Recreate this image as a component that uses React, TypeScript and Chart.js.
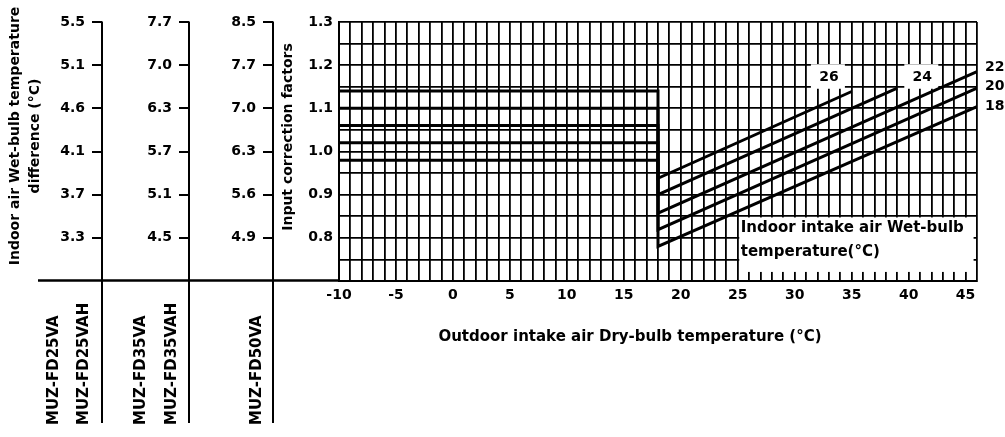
import React, { useEffect, useRef } from 'react';
import { Chart, registerables } from 'chart.js';

Chart.register(...registerables);

// ---- data ----
const wetBulbLabels = ['26', '24', '22', '20', '18'];
const lowStartTemps = [-10, -10, -10, -10, -10];
const lowTempFactors = [1.14, 1.1, 1.06, 1.02, 0.98];
const breakTemps = [18, 18, 18, 18, 18];
const breakFactors = [0.938, 0.9, 0.857, 0.819, 0.78];
const endTemps = [35, 39, 46, 46, 46];
const endFactors = [1.139, 1.147, 1.185, 1.147, 1.104];

const xLabelTicks = [-10, -5, 0, 5, 10, 15, 20, 25, 30, 35, 40, 45];
const factorTicks = [0.8, 0.9, 1.0, 1.1, 1.2, 1.3];
const factorTickLabels = ['0.8', '0.9', '1.0', '1.1', '1.2', '1.3'];
const diffTicks25 = ['3.3', '3.7', '4.1', '4.6', '5.1', '5.5'];
const diffTicks35 = ['4.5', '5.1', '5.7', '6.3', '7.0', '7.7'];
const diffTicks50 = ['4.9', '5.6', '6.3', '7.0', '7.7', '8.5'];
const models25 = ['MUZ-FD25VA', 'MUZ-FD25VAH'];
const models35 = ['MUZ-FD35VA', 'MUZ-FD35VAH'];
const models50 = ['MUZ-FD50VA'];

const X_MIN = -10;
const X_MAX = 46;
const Y_MIN = 0.7;
const Y_MAX = 1.3;

const FONT = 'DejaVu Sans';

const xGridTicks: number[] = [];
for (let v = X_MIN; v <= X_MAX; v++) xGridTicks.push(v);
const yGridTicks: number[] = [];
for (let i = 0; i <= 12; i++) yGridTicks.push(Math.round((Y_MIN + 0.05 * i) * 100) / 100);

function auxAxis(labels: string[], weight: number, width: number) {
  return {
    type: 'linear',
    position: 'left',
    weight,
    min: Y_MIN,
    max: Y_MAX,
    afterBuildTicks: (s: any) => {
      s.ticks = factorTicks.map((v) => ({ value: v }));
    },
    afterFit: (s: any) => {
      s.width = width;
    },
    grid: { drawOnChartArea: false, drawTicks: true, tickLength: 10, color: '#000', lineWidth: 2 },
    border: { display: false },
    ticks: {
      autoSkip: false,
      padding: 7,
      color: '#000',
      font: { family: FONT, size: 14, weight: 'bold' },
      callback: (_v: any, i: number) => labels[i],
    },
  };
}

function text(ctx: CanvasRenderingContext2D, s: string, x: number, y: number, size: number, align: CanvasTextAlign, rot = 0) {
  ctx.save();
  ctx.translate(x, y);
  if (rot) ctx.rotate(rot);
  ctx.font = `bold ${size}px "${FONT}"`;
  ctx.fillStyle = '#000';
  ctx.textAlign = align;
  ctx.textBaseline = 'middle';
  ctx.fillText(s, 0, 0);
  ctx.restore();
}

const overlayPlugin = {
  id: 'overlay',
  beforeDatasetsDraw(chart: any) {
    const { ctx, scales } = chart;
    const x = scales.x;
    const y = scales.y;
    ctx.save();
    ctx.fillStyle = '#fff';
    // box behind the wet-bulb caption
    const l = x.getPixelForValue(25) + 1.5;
    const r = x.getPixelForValue(45.7);
    const t = y.getPixelForValue(0.85) + 1.2;
    const b = y.getPixelForValue(0.721);
    ctx.fillRect(l, t, r - l, b - t);
    // boxes behind 26 / 24 labels
    const lbl = [
      { x: 33.0, y: 1.172 },
      { x: 41.2, y: 1.172 },
    ];
    lbl.forEach((p) => {
      const cx = x.getPixelForValue(p.x);
      const cy = y.getPixelForValue(p.y);
      ctx.fillRect(cx - 18, cy - 13, 34, 24.5);
    });
    ctx.restore();
  },
  afterDatasetsDraw(chart: any) {
    const { ctx, scales, chartArea } = chart;
    const x = scales.x;
    const y = scales.y;
    const bl = x.getPixelForValue(25) + 3;
    text(ctx, 'Indoor intake air Wet-bulb', bl, y.getPixelForValue(0.822), 15, 'left');
    text(ctx, 'temperature(°C)', bl, y.getPixelForValue(0.768), 15, 'left');
    text(ctx, wetBulbLabels[0], x.getPixelForValue(33.0), y.getPixelForValue(1.172), 14, 'center');
    text(ctx, wetBulbLabels[1], x.getPixelForValue(41.2), y.getPixelForValue(1.172), 14, 'center');
    const offs = [0, 0, -4, -2, 0];
    for (let i = 2; i < wetBulbLabels.length; i++) {
      text(ctx, wetBulbLabels[i], chartArea.right + 8, y.getPixelForValue(endFactors[i]) + offs[i], 14, 'left');
    }
  },
  afterDraw(chart: any) {
    const { ctx, scales, chartArea } = chart;
    const axes = [scales.yd25, scales.yd35, scales.yd50];
    ctx.save();
    ctx.strokeStyle = '#000';
    ctx.lineWidth = 2;
    axes.forEach((s: any) => {
      ctx.beginPath();
      ctx.moveTo(s.right, chartArea.top - 0.5);
      ctx.lineTo(s.right, 423);
      ctx.stroke();
    });
    ctx.lineWidth = 2.5;
    ctx.beginPath();
    ctx.moveTo(38, chartArea.bottom - 0.5);
    ctx.lineTo(chartArea.left, chartArea.bottom - 0.5);
    ctx.stroke();
    ctx.restore();

    const midY = chartArea.top + 114;
    text(ctx, 'Indoor air Wet-bulb temperature', 15.5, midY, 14, 'center', -Math.PI / 2);
    text(ctx, 'difference (°C)', 35, midY, 14, 'center', -Math.PI / 2);
    text(ctx, 'Input correction factors', scales.y.left + 15, midY + 1, 14, 'center', -Math.PI / 2);
    text(ctx, 'Outdoor intake air Dry-bulb temperature (°C)', 630, 337, 15, 'center');

    const bottom = 425;
    const r25 = scales.yd25.right;
    const r35 = scales.yd35.right;
    const r50 = scales.yd50.right;
    text(ctx, models25[0], r25 - 48, bottom, 15, 'left', -Math.PI / 2);
    text(ctx, models25[1], r25 - 18, bottom, 15, 'left', -Math.PI / 2);
    text(ctx, models35[0], r35 - 48, bottom, 15, 'left', -Math.PI / 2);
    text(ctx, models35[1], r35 - 16.5, bottom, 15, 'left', -Math.PI / 2);
    text(ctx, models50[0], r50 - 15.5, bottom, 15, 'left', -Math.PI / 2);
  },
};

export default function App() {
  const ref = useRef<HTMLCanvasElement | null>(null);

  useEffect(() => {
    if (!ref.current) return;
    const datasets = wetBulbLabels.map((lab, i) => ({
      label: lab,
      data: [
        { x: lowStartTemps[i], y: lowTempFactors[i] },
        { x: breakTemps[i], y: lowTempFactors[i] },
        { x: breakTemps[i], y: breakFactors[i] },
        { x: endTemps[i], y: endFactors[i] },
      ],
      borderColor: '#000',
      borderWidth: 3,
      pointRadius: 0,
      tension: 0,
      fill: false,
    }));

    const chart = new Chart(ref.current, {
      type: 'line',
      data: { datasets } as any,
      plugins: [overlayPlugin],
      options: {
        animation: false,
        responsive: false,
        devicePixelRatio: 1,
        layout: { padding: { left: 42, right: 28, top: 22, bottom: 126 } },
        plugins: { legend: { display: false }, tooltip: { enabled: false } },
        scales: {
          yd25: auxAxis(diffTicks25, 3, 60),
          yd35: auxAxis(diffTicks35, 2, 87),
          yd50: auxAxis(diffTicks50, 1, 84),
          y: {
            type: 'linear',
            position: 'left',
            weight: 0,
            min: Y_MIN,
            max: Y_MAX,
            afterBuildTicks: (s: any) => {
              s.ticks = yGridTicks.map((v) => ({ value: v }));
            },
            afterFit: (s: any) => {
              s.width = 66;
            },
            grid: { color: '#000', lineWidth: 1.8, drawTicks: false },
            border: { display: true, color: '#000', width: 2 },
            ticks: {
              autoSkip: false,
              padding: 6,
              color: '#000',
              font: { family: FONT, size: 14, weight: 'bold' },
              callback: (v: any) => {
                const idx = factorTicks.findIndex((t) => Math.abs(t - Number(v)) < 1e-6);
                return idx >= 0 ? factorTickLabels[idx] : '';
              },
            },
          },
          x: {
            type: 'linear',
            position: 'bottom',
            min: X_MIN,
            max: X_MAX,
            afterBuildTicks: (s: any) => {
              s.ticks = xGridTicks.map((v) => ({ value: v }));
            },
            afterFit: (s: any) => {
              s.height = 30;
            },
            grid: { color: '#000', lineWidth: 1.8, drawTicks: false },
            border: { display: true, color: '#000', width: 2 },
            ticks: {
              autoSkip: false,
              maxRotation: 0,
              padding: 6,
              color: '#000',
              font: { family: FONT, size: 14, weight: 'bold' },
              callback: (v: any) => (xLabelTicks.includes(Number(v)) ? String(v) : ''),
            },
          },
        },
      } as any,
    });
    return () => chart.destroy();
  }, []);

  return (
    <div style={{ position: 'absolute', left: 0, top: 0, width: 1005, height: 437, background: '#fff' }}>
      <canvas ref={ref} width={1005} height={437} style={{ display: 'block' }} />
    </div>
  );
}
